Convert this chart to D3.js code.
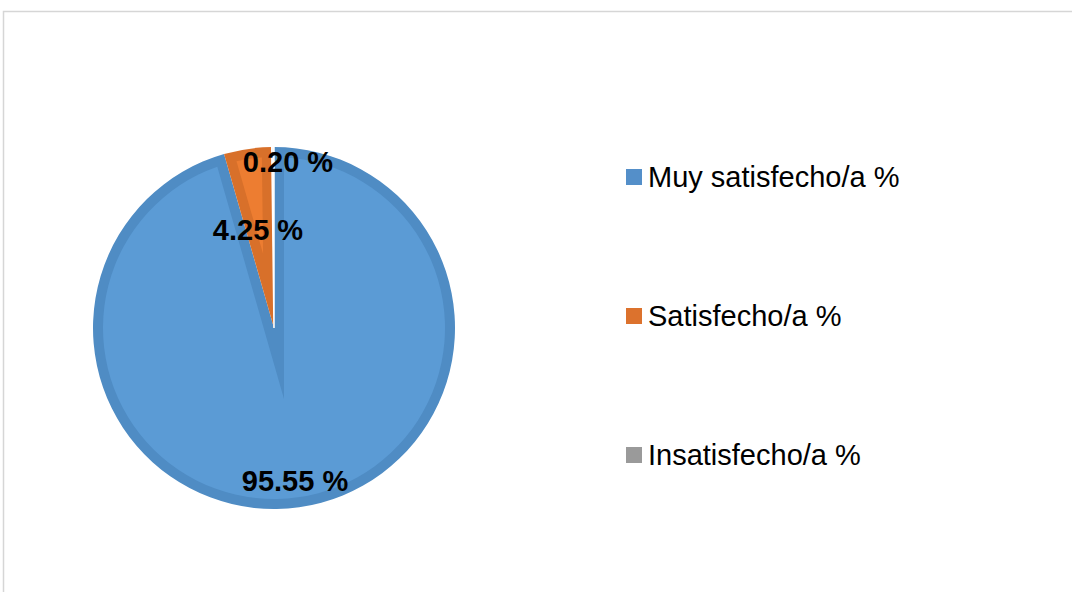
<!DOCTYPE html>
<html>
<head>
<meta charset="utf-8">
<script src="https://cdn.jsdelivr.net/npm/d3@7"></script>
<style>
  body { margin: 0; background: #fff; }
  text { font-family: "Liberation Sans", Arial, sans-serif; }
</style>
</head>
<body>
<div id="chart"></div>
<script>
// data
const CATEGORIES = ["Muy satisfecho/a %", "Satisfecho/a %", "Insatisfecho/a %"];
const VALUES = [95.55, 4.25, 0.20];
const LABELS = ["95.55 %", "4.25 %", "0.20 %"];
const COLORS = ["#5b9bd5", "#ed7d31", "#a5a5a5"];
const EDGE_COLORS = ["#4f8cc4", "#d8702a", "#959595"];
const LEGEND_COLORS = ["#548fc9", "#dc722d", "#9a9a9a"];

const WIDTH = 1072;
const HEIGHT = 592;
const CX = 274, CY = 328, R = 181;
const BEVEL = 10;

const svg = d3.select("#chart")
  .append("svg")
    .attr("width", WIDTH)
    .attr("height", HEIGHT);

// frame of the chart area
svg.append("rect")
  .attr("x", 3.5).attr("y", 11.5)
  .attr("width", WIDTH + 10).attr("height", HEIGHT + 10)
  .attr("fill", "none")
  .attr("stroke", "#d6d6d6")
  .attr("stroke-width", 1.5);

const pie = d3.pie().sort(null).value(d => d);
const arcs = pie(VALUES);
const arc = d3.arc().innerRadius(0).outerRadius(R);

const g = svg.append("g").attr("transform", `translate(${CX},${CY})`);

// inner (lighter) face of a slice, inset by BEVEL px like Excel's bevel
function insetPath(a) {
  const theta = a.endAngle - a.startAngle;
  const rho = R - BEVEL;
  const delta = Math.asin(BEVEL / rho);
  if (theta <= 2 * delta + 0.01) return null;
  const dist = BEVEL / Math.sin(theta / 2);
  const mid = (a.startAngle + a.endAngle) / 2;
  const p = d3.path();
  p.moveTo(dist * Math.sin(mid), -dist * Math.cos(mid));
  const s = a.startAngle + delta - Math.PI / 2;
  const e = a.endAngle - delta - Math.PI / 2;
  p.lineTo(rho * Math.cos(s), rho * Math.sin(s));
  p.arc(0, 0, rho, s, e, false);
  p.closePath();
  return p.toString();
}

// slices: darker edge
g.selectAll("path.slice")
  .data(arcs)
  .enter()
  .append("path")
    .attr("class", "slice")
    .attr("d", arc)
    .attr("fill", (d, i) => EDGE_COLORS[i]);

// slices: lighter face
g.selectAll("path.face")
  .data(arcs.filter(a => insetPath(a) !== null))
  .enter()
  .append("path")
    .attr("class", "face")
    .attr("d", insetPath)
    .attr("fill", (d) => COLORS[d.index]);

// tiny slice drawn with white border
g.append("path")
  .attr("d", arc(arcs[2]))
  .attr("fill", "#f4f4f4")
  .attr("stroke", "#fff")
  .attr("stroke-width", 1.5);

// data labels
const LABEL_POS = [[21, 163], [-16, -88], [14, -156]];
g.selectAll("text.lbl")
  .data(LABELS)
  .enter()
  .append("text")
    .attr("class", "lbl")
    .attr("x", (d, i) => LABEL_POS[i][0])
    .attr("y", (d, i) => LABEL_POS[i][1])
    .attr("text-anchor", "middle")
    .attr("font-size", 29)
    .attr("font-weight", "bold")
    .attr("fill", "#000")
    .text(d => d);

// legend
const legendY = d3.scalePoint().domain(CATEGORIES).range([177, 455]);
const legend = svg.selectAll("g.legend")
  .data(CATEGORIES)
  .enter()
  .append("g")
    .attr("class", "legend")
    .attr("transform", d => `translate(626,${legendY(d)})`);

legend.append("rect")
  .attr("x", 0).attr("y", -8)
  .attr("width", 16).attr("height", 16)
  .attr("fill", (d, i) => LEGEND_COLORS[i]);

legend.append("text")
  .attr("x", 22).attr("y", 10)
  .attr("font-size", 29)
  .attr("fill", "#000")
  .text(d => d);
</script>
</body>
</html>
